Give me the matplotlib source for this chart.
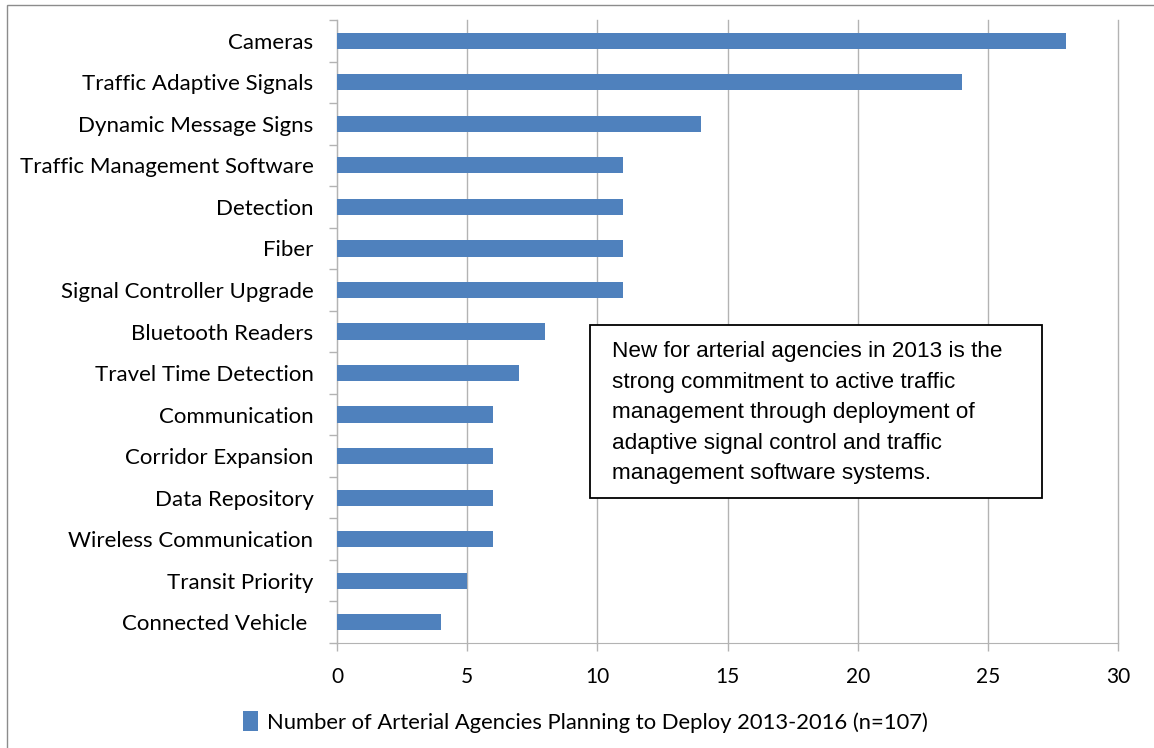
import matplotlib.pyplot as plt
from matplotlib.patches import Rectangle, Patch

# data
categories = ["Cameras", "Traffic Adaptive Signals", "Dynamic Message Signs",
              "Traffic Management Software", "Detection", "Fiber",
              "Signal Controller Upgrade", "Bluetooth Readers",
              "Travel Time Detection", "Communication", "Corridor Expansion",
              "Data Repository", "Wireless Communication", "Transit Priority",
              "Connected Vehicle "]
counts = [28, 24, 14, 11, 11, 11, 11, 8, 7, 6, 6, 6, 6, 5, 4]
x_ticks = [0, 5, 10, 15, 20, 25, 30]
series_label = "Number of Arterial Agencies Planning to Deploy 2013-2016 (n=107)"
note = ("New for arterial agencies in 2013 is the\n"
        "strong commitment to active traffic\n"
        "management through deployment of\n"
        "adaptive signal control and traffic\n"
        "management software systems.")

BAR_COLOR = "#4F81BD"
GRID_COLOR = "#B3B3B3"
W, H = 1154, 748

plt.rcParams['font.family'] = ['Lato', 'DejaVu Sans']

fig = plt.figure(figsize=(W / 100, H / 100), dpi=100)
# plot area in pixels: x 337..1118, y 20..643
ax = fig.add_axes([337 / W, 1 - 643 / H, (1118 - 337) / W, (643 - 20) / H])

ypos = list(range(len(categories)))
ax.barh(ypos, counts, height=0.39, color=BAR_COLOR, zorder=3)
ax.set_ylim(len(categories) - 0.5, -0.5)
ax.set_xlim(0, 30)

ax.set_xticks(x_ticks)
ax.set_xticklabels([str(t) for t in x_ticks], fontsize=15)
ax.set_yticks(ypos)
ax.set_yticklabels(categories, fontsize=16)
ax.tick_params(axis='y', length=0, pad=17)
ax.tick_params(axis='x', length=6, width=1, color=GRID_COLOR, pad=11)

# category separator ticks on the left
ax.set_yticks([i - 0.5 for i in range(len(categories) + 1)], minor=True)
ax.tick_params(axis='y', which='minor', length=6, width=1, color=GRID_COLOR)

ax.grid(axis='x', color=GRID_COLOR, linewidth=1, zorder=0)
for gl in ax.get_xgridlines():
    gl.set_clip_on(False)
for side in ['top', 'right']:
    ax.spines[side].set_visible(False)
ax.spines['left'].set_color(GRID_COLOR)
ax.spines['bottom'].set_color(GRID_COLOR)

# annotation box
fig.add_artist(Rectangle((590 / W, 1 - 498 / H), (1042 - 590) / W, (498 - 325) / H,
                         transform=fig.transFigure, fill=True, facecolor='white',
                         edgecolor='black', linewidth=1.3, zorder=2))
fig.text(612 / W, 1 - 341 / H, note, family=['Liberation Sans', 'DejaVu Sans'],
         fontsize=16.2, va='top', ha='left', linespacing=1.6, zorder=3)

# legend
fig.legend(handles=[Patch(facecolor=BAR_COLOR)], labels=[series_label],
           loc='center left', bbox_to_anchor=(243 / W, 1 - 722 / H),
           frameon=False, fontsize=15.8, handlelength=0.7, handleheight=1.0,
           handletextpad=0.4, borderaxespad=0, borderpad=0)

# outer chart border (only left and top edges fall inside the image)
fig.add_artist(Rectangle((7 / W, -0.05), 1.1, 1 - 5 / H + 0.05,
                         transform=fig.transFigure, fill=False,
                         edgecolor='#8C8C8C', linewidth=1))

fig.savefig("out.png", dpi=100)
